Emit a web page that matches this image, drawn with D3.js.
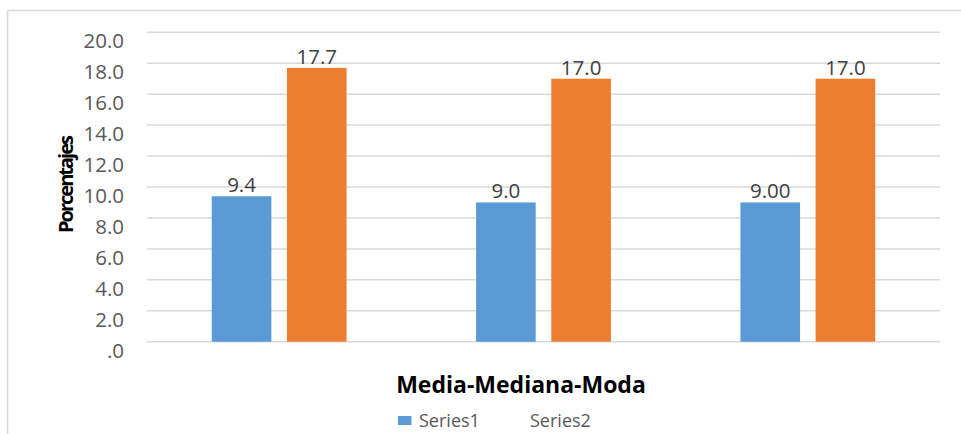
<!DOCTYPE html>
<html>
<head>
<meta charset="utf-8">
<script src="https://cdn.jsdelivr.net/npm/d3@7"></script>
<style>
  html, body { margin: 0; padding: 0; background: #fff; }
  svg { display: block; font-family: "Open Sans", sans-serif; }
</style>
</head>
<body>
<svg id="chart" width="961" height="434"></svg>
<script>
const categories = ["Media", "Mediana", "Moda"];
const seriesNames = ["Series1", "Series2"];
const series1 = [9.4, 9.0, 9.0];
const series2 = [17.7, 17.0, 17.0];
const series1Labels = ["9.4", "9.0", "9.00"];
const series2Labels = ["17.7", "17.0", "17.0"];
const yTicks = [0, 2, 4, 6, 8, 10, 12, 14, 16, 18, 20];
const yTickLabels = [".0", "2.0", "4.0", "6.0", "8.0", "10.0", "12.0", "14.0", "16.0", "18.0", "20.0"];
const colors = ["#5B9BD5", "#ED7D31"];
const xTitle = "Media-Mediana-Moda";
const yTitle = "Porcentajes";

const svg = d3.select("#chart");
const W = 961, H = 434;
const plot = { left: 147, right: 940, top: 32.3, bottom: 341.7 };

// chart border (left + top)
svg.append("line").attr("x1", 7.5).attr("x2", 7.5).attr("y1", 10.5).attr("y2", H)
  .attr("stroke", "#D9D9D9").attr("stroke-width", 1.5);
svg.append("line").attr("x1", 7.5).attr("x2", W).attr("y1", 10.5).attr("y2", 10.5)
  .attr("stroke", "#D9D9D9").attr("stroke-width", 1.5);

const y = d3.scaleLinear().domain([0, 20]).range([plot.bottom, plot.top]);
const x0 = d3.scaleBand().domain(categories).range([plot.left, plot.right]).paddingInner(0.49).paddingOuter(0.245);
const x1 = d3.scaleBand().domain(seriesNames).range([0, x0.bandwidth()]).paddingInner(0.207);

// gridlines
svg.append("g").selectAll("line").data(yTicks).join("line")
  .attr("x1", plot.left).attr("x2", plot.right)
  .attr("y1", d => y(d)).attr("y2", d => y(d))
  .attr("stroke", "#D9D9D9").attr("stroke-width", 1.5);

// y axis
const yAxis = d3.axisLeft(y).tickValues(yTicks).tickSize(0).tickPadding(23)
  .tickFormat((d, i) => yTickLabels[i]);
const gy = svg.append("g").attr("transform", `translate(${plot.left},0)`).call(yAxis);
gy.select(".domain").remove();
gy.selectAll("text").attr("dy", "0.75em").attr("fill", "#595959")
  .style("font-size", "20.5px").style("font-family", "'Open Sans', sans-serif");

// bars
const data = categories.map((c, i) => ({
  cat: c,
  vals: [
    { s: seriesNames[0], v: series1[i], label: series1Labels[i], color: colors[0] },
    { s: seriesNames[1], v: series2[i], label: series2Labels[i], color: colors[1] }
  ]
}));

const groups = svg.append("g").selectAll("g").data(data).join("g")
  .attr("transform", d => `translate(${x0(d.cat)},0)`);

groups.selectAll("rect").data(d => d.vals).join("rect")
  .attr("x", d => x1(d.s)).attr("width", x1.bandwidth())
  .attr("y", d => y(d.v)).attr("height", d => y(0) - y(d.v))
  .attr("fill", d => d.color);

groups.selectAll("text").data(d => d.vals).join("text")
  .attr("x", d => x1(d.s) + x1.bandwidth() / 2)
  .attr("y", d => y(d.v) - 4)
  .attr("text-anchor", "middle")
  .attr("fill", "#404040")
  .style("font-size", "20.5px")
  .text(d => d.label);

// x axis title
svg.append("text").attr("x", 521).attr("y", 393).attr("text-anchor", "middle")
  .style("font-size", "23px").style("font-weight", "bold").attr("fill", "#000")
  .text(xTitle);

// y axis title
svg.append("text").attr("transform", "translate(73,185) rotate(-90)")
  .attr("text-anchor", "middle")
  .style("font-size", "20px").style("font-weight", "bold").style("letter-spacing", "-2px")
  .attr("fill", "#000").text(yTitle);

// legend
const legend = svg.append("g");
const legendX = [398, 509];
seriesNames.forEach((s, i) => {
  if (i === 0) {
    legend.append("rect").attr("x", legendX[i]).attr("y", 416).attr("width", 13.5).attr("height", 9)
      .attr("fill", colors[i]);
  }
  legend.append("text").attr("x", legendX[i] + 21).attr("y", 427)
    .attr("fill", "#595959").style("font-size", "18px").text(s);
});
</script>
</body>
</html>
